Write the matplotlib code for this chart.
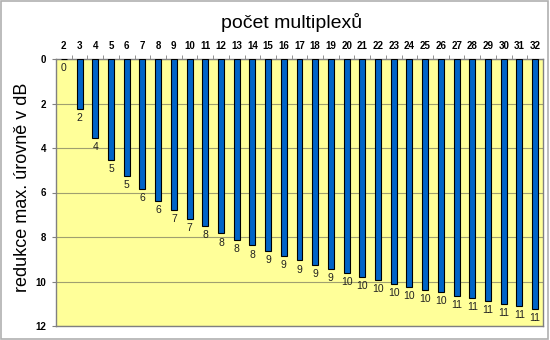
import numpy as np
import matplotlib.pyplot as plt
from matplotlib.patches import Rectangle

# počet multiplexů a odpovídající redukce max. úrovně (dB)
multiplexy = list(range(2, 33))
redukce_db = [0.0, 2.25, 3.56, 4.53, 5.25, 5.85, 6.36, 6.79, 7.18, 7.52,
              7.84, 8.12, 8.38, 8.62, 8.84, 9.05, 9.25, 9.44, 9.62, 9.79,
              9.94, 10.10, 10.24, 10.37, 10.48, 10.64, 10.75, 10.88, 11.00,
              11.11, 11.22]
popisky = [f"{v:.0f}" for v in redukce_db]

plt.rcParams['font.family'] = ['Liberation Sans', 'DejaVu Sans']

fig = plt.figure(figsize=(5.5, 3.4), dpi=100)
fig.patch.set_facecolor('white')
fig.patches.append(Rectangle((0.002, 0.003), 0.995, 0.994, transform=fig.transFigure,
                             fill=False, edgecolor='#b0b0b0', linewidth=1.2))

ax = fig.add_axes([56/550, 1 - 326/340, 487/550, 267/340])
ax.set_facecolor('#FFFF99')

x = np.arange(len(multiplexy))
ax.bar(x, redukce_db, width=0.38, color='#0064C8', edgecolor='black',
       linewidth=0.8, zorder=3)
# popisky hodnot pod konci sloupců (osa y je obrácená)
for xi, v, lab in zip(x, redukce_db, popisky):
    ax.annotate(lab, (xi, v), xytext=(0, -3), textcoords='offset points',
                ha='center', va='top', fontsize=7.5, color='#202020', zorder=4)

ax.set_xlim(-0.5, len(multiplexy) - 0.5)
ax.set_ylim(12, 0)
ax.set_yticks(np.arange(0, 13, 2))
ax.yaxis.grid(True, color='#a0a070', linewidth=0.8, zorder=0)

ax.xaxis.tick_top()
ax.set_xticks(x)
ax.set_xticklabels(multiplexy, fontsize=7, fontweight='bold')
ax.set_xticks(x[:-1] + 0.5, minor=True)
ax.tick_params(axis='x', which='major', length=0, pad=6)
ax.tick_params(axis='x', which='minor', length=3, color='#808080')
ax.tick_params(axis='y', labelsize=7, length=3, color='#808080', pad=4)
for lab in ax.get_yticklabels():
    lab.set_fontweight('bold')

for side in ['top', 'bottom', 'left', 'right']:
    ax.spines[side].set_color('#808080')
    ax.spines[side].set_linewidth(1.0)

fig.text(292/550, 1 - 22/340, 'počet multiplexů', ha='center', va='center', fontsize=14)
fig.text(23/550, 1 - 187/340, 'redukce max. úrovně v dB', ha='center', va='center',
         rotation=90, fontsize=13)

fig.savefig('out.png', dpi=100)
